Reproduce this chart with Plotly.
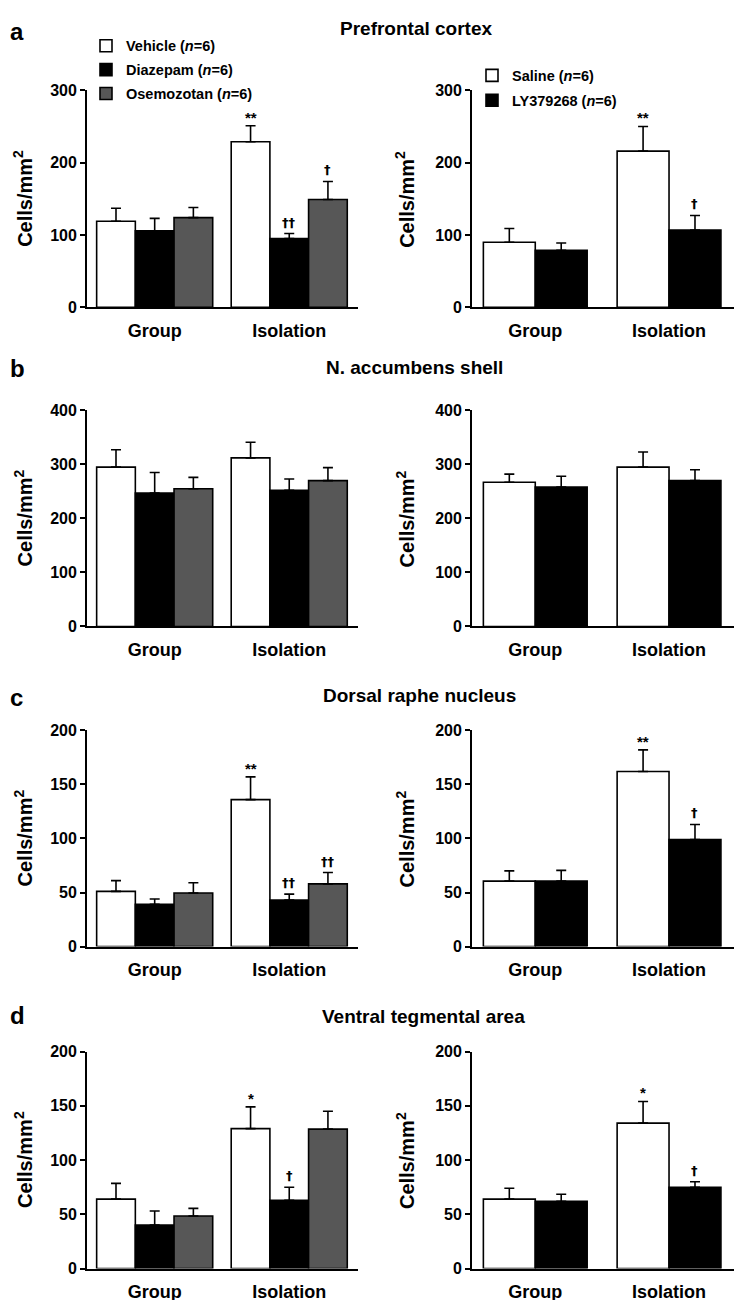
import plotly.graph_objects as go
from plotly.subplots import make_subplots

W, H = 742, 1300

categories = ["Group", "Isolation"]

# ---- a: Prefrontal cortex
pfc_vehicle = [119, 229]
pfc_vehicle_err = [18, 22]
pfc_diazepam = [106, 95]
pfc_diazepam_err = [17, 7]
pfc_osemozotan = [124, 149]
pfc_osemozotan_err = [14, 25]
pfc_saline = [90, 216]
pfc_saline_err = [19, 34]
pfc_ly = [79, 107]
pfc_ly_err = [10, 20]

# ---- b: N. accumbens shell
nac_vehicle = [295, 312]
nac_vehicle_err = [32, 29]
nac_diazepam = [247, 252]
nac_diazepam_err = [38, 21]
nac_osemozotan = [255, 270]
nac_osemozotan_err = [21, 24]
nac_saline = [267, 295]
nac_saline_err = [15, 28]
nac_ly = [258, 270]
nac_ly_err = [20, 20]

# ---- c: Dorsal raphe nucleus
drn_vehicle = [51, 136]
drn_vehicle_err = [10, 21]
drn_diazepam = [39, 43]
drn_diazepam_err = [5, 5.5]
drn_osemozotan = [49.5, 58]
drn_osemozotan_err = [9.5, 10.5]
drn_saline = [60.5, 162]
drn_saline_err = [9.5, 20]
drn_ly = [60.5, 99]
drn_ly_err = [10, 14]

# ---- d: Ventral tegmental area
vta_vehicle = [64, 129]
vta_vehicle_err = [14.5, 20]
vta_diazepam = [40, 63]
vta_diazepam_err = [13, 12]
vta_osemozotan = [48.5, 128.5]
vta_osemozotan_err = [7, 16.5]
vta_saline = [64, 134]
vta_saline_err = [10, 20]
vta_ly = [62, 75]
vta_ly_err = [6.5, 5]

# significance marks
pfc_marks_left = [["", "**"], ["", "\u2020\u2020"], ["", "\u2020"]]
pfc_marks_right = [["", "**"], ["", "\u2020"]]
nac_marks_left = [["", ""], ["", ""], ["", ""]]
nac_marks_right = [["", ""], ["", ""]]
drn_marks_left = [["", "**"], ["", "\u2020\u2020"], ["", "\u2020\u2020"]]
drn_marks_right = [["", "**"], ["", "\u2020"]]
vta_marks_left = [["", "*"], ["", "\u2020"], ["", ""]]
vta_marks_right = [["", "*"], ["", "\u2020"]]

region_titles = ["Prefrontal cortex", "N. accumbens shell",
                 "Dorsal raphe nucleus", "Ventral tegmental area"]
panel_letters = ["a", "b", "c", "d"]
y_ranges = [300, 400, 200, 200]
y_dticks = [100, 100, 50, 50]

left_names = ["Vehicle (<i>n</i>=6)", "Diazepam (<i>n</i>=6)", "Osemozotan (<i>n</i>=6)"]
right_names = ["Saline (<i>n</i>=6)", "LY379268 (<i>n</i>=6)"]
left_colors = ["#ffffff", "#000000", "#575757"]
right_colors = ["#ffffff", "#000000"]

left_data = [
    [(pfc_vehicle, pfc_vehicle_err), (pfc_diazepam, pfc_diazepam_err), (pfc_osemozotan, pfc_osemozotan_err)],
    [(nac_vehicle, nac_vehicle_err), (nac_diazepam, nac_diazepam_err), (nac_osemozotan, nac_osemozotan_err)],
    [(drn_vehicle, drn_vehicle_err), (drn_diazepam, drn_diazepam_err), (drn_osemozotan, drn_osemozotan_err)],
    [(vta_vehicle, vta_vehicle_err), (vta_diazepam, vta_diazepam_err), (vta_osemozotan, vta_osemozotan_err)],
]
right_data = [
    [(pfc_saline, pfc_saline_err), (pfc_ly, pfc_ly_err)],
    [(nac_saline, nac_saline_err), (nac_ly, nac_ly_err)],
    [(drn_saline, drn_saline_err), (drn_ly, drn_ly_err)],
    [(vta_saline, vta_saline_err), (vta_ly, vta_ly_err)],
]
left_marks = [pfc_marks_left, nac_marks_left, drn_marks_left, vta_marks_left]
right_marks = [pfc_marks_right, nac_marks_right, drn_marks_right, vta_marks_right]

FONT = "Liberation Sans, Arial, Helvetica, sans-serif"

# page placement of the figure in the photographed window
OFF_X, OFF_Y, SCALE_Y = 8.0, 15.7, 0.9867


def fx(X):
    return (X - OFF_X) / W


def fy(Y):
    return 1 - ((Y - OFF_Y) / SCALE_Y) / H


# layout geometry (target pixels in the photographed picture)
row_plot_px = [(90, 307), (410, 626), (730, 946), (1051, 1268)]
title_y_px = [None, 367, 695, 1016]
title_x_px = [416, 414, 419, 423]
letter_y_px = [None, 368, 697, 1015]
col_x_px = [(87, 358), (472, 741)]
ytitle_x_px = [23, 405]
bargaps = [0.1375, 0.224]
x_ranges = [[-0.503, 1.511], [-0.473, 1.538]]

fig = make_subplots(rows=4, cols=2)

annotations = []
for r in range(4):
    for c in range(2):
        data = left_data[r] if c == 0 else right_data[r]
        names = left_names if c == 0 else right_names
        colors = left_colors if c == 0 else right_colors
        marks = left_marks[r] if c == 0 else right_marks[r]
        n = len(data)
        g = bargaps[c]
        wbar = (1 - g) / n
        idx = 2 * r + c + 1
        for i, ((vals, errs), nm, col) in enumerate(zip(data, names, colors)):
            start = -(1 - g) / 2 + wbar * i
            fig.add_trace(go.Bar(
                x=categories, y=vals, name=nm,
                width=wbar, offset=start,
                marker=dict(color=col, line=dict(color="black", width=1.6)),
                error_y=dict(type="data", array=errs, arrayminus=[0] * len(errs),
                             symmetric=False, color="black", thickness=1.6, width=5),
                showlegend=(r == 0),
                legend="legend" if c == 0 else "legend2",
                legendgroup=f"g{c}{i}",
            ), row=r + 1, col=c + 1)
            # significance annotations
            off = start + wbar / 2
            for k, m in enumerate(marks[i]):
                if not m:
                    continue
                is_star = "*" in m
                annotations.append(dict(
                    x=k + off, y=vals[k] + errs[k],
                    xref=f"x{idx if idx > 1 else ''}", yref=f"y{idx if idx > 1 else ''}",
                    text=m, showarrow=False, yanchor="bottom",
                    yshift=(-2 if is_star else 2),
                    font=dict(family=(FONT if is_star else "DejaVu Sans"),
                              size=(15 if is_star else 13), color="#000000",
                              weight="bold"),
                ))
        # axes
        y0, y1 = row_plot_px[r]
        x0, x1 = col_x_px[c]
        fig.update_xaxes(domain=[fx(x0), fx(x1)], range=x_ranges[c],
                         showline=True, linecolor="black", linewidth=1.8,
                         ticks="", showgrid=False, zeroline=False,
                         ticklabelstandoff=6,
                         tickfont=dict(family=FONT, size=18, color="black", weight="bold"),
                         row=r + 1, col=c + 1)
        fig.update_yaxes(domain=[fy(y1), fy(y0)], range=[0, y_ranges[r]],
                         dtick=y_dticks[r], tick0=0,
                         showline=True, linecolor="black", linewidth=1.8,
                         ticks="outside", ticklen=5, tickwidth=1.8, tickcolor="black",
                         showgrid=False, zeroline=False,
                         tickfont=dict(family=FONT, size=16, color="black", weight="bold"),
                         row=r + 1, col=c + 1)
        # y axis title
        annotations.append(dict(
            x=fx(ytitle_x_px[c]), y=fy((y0 + y1) / 2), xref="paper", yref="paper",
            text="Cells/mm<sup>2</sup>", textangle=-90, showarrow=False,
            xanchor="center", yanchor="middle",
            font=dict(family=FONT, size=20, color="black", weight="bold")))
    # region title and panel letter
    if title_y_px[r] is None:
        ty, tanchor = 1.0, "top"
        ly = 1.0
    else:
        ty, tanchor = fy(title_y_px[r]), "middle"
        ly = fy(letter_y_px[r])
    annotations.append(dict(
        x=fx(title_x_px[r]), y=ty, xref="paper", yref="paper",
        text=region_titles[r], showarrow=False, xanchor="center", yanchor=tanchor,
        font=dict(family=FONT, size=19, color="black", weight="bold")))
    annotations.append(dict(
        x=0.0, y=ly, xref="paper", yref="paper",
        text=panel_letters[r], showarrow=False, xanchor="left", yanchor=tanchor,
        font=dict(family=FONT, size=24, color="black", weight="bold")))

fig.update_layout(
    width=W, height=H,
    margin=dict(l=0, r=0, t=0, b=0),
    paper_bgcolor="white", plot_bgcolor="white",
    barmode="overlay",
    annotations=annotations,
    legend=dict(x=78 / W, y=1 - 14 / H, xanchor="left", yanchor="top",
                bgcolor="rgba(0,0,0,0)", tracegroupgap=2, itemwidth=30,
                font=dict(family=FONT, size=14.5, color="black", weight="bold")),
    legend2=dict(x=464 / W, y=1 - 44 / H, xanchor="left", yanchor="top",
                 bgcolor="rgba(0,0,0,0)", tracegroupgap=3, itemwidth=30,
                 font=dict(family=FONT, size=14.5, color="black", weight="bold")),
)

fig.write_html("out.html")
